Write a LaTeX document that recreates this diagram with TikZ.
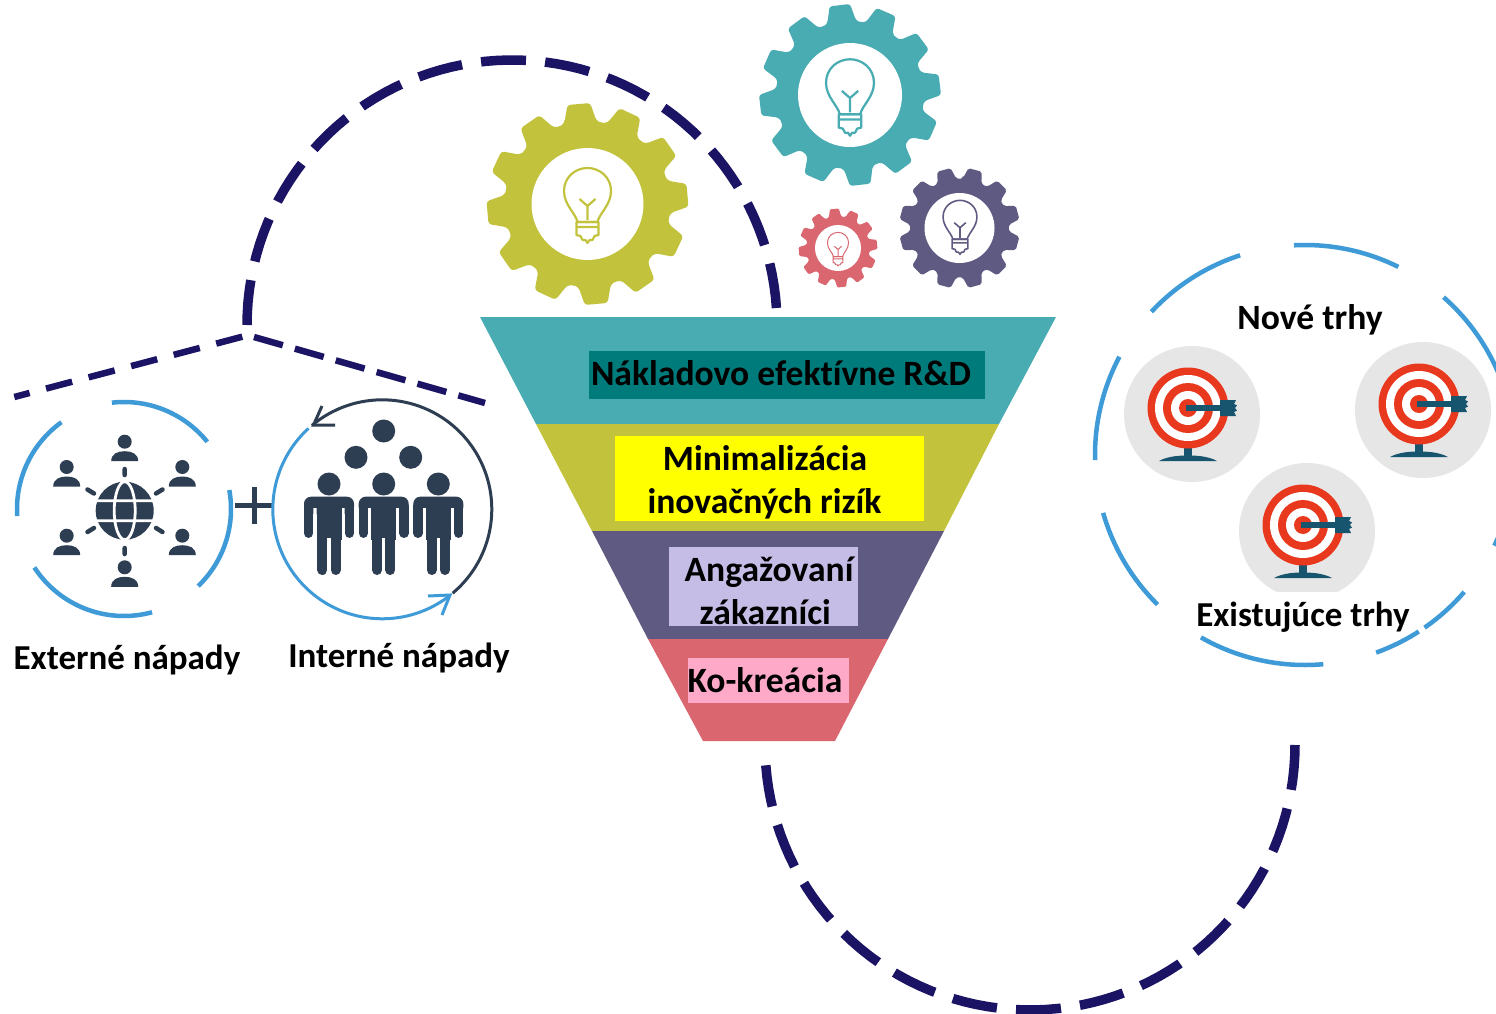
\documentclass[tikz,border=0pt]{standalone}
\usepackage{fontspec}
\setmainfont{Carlito}[Ligatures=NoCommon]
\definecolor{navy}{HTML}{1B1464}
\definecolor{sky}{HTML}{3F9BD7}
\definecolor{slate}{HTML}{2E3E52}
\definecolor{cteal}{HTML}{4AACB3}
\definecolor{colive}{HTML}{C2C23C}
\definecolor{cpurple}{HTML}{5E5A82}
\definecolor{cred}{HTML}{DA6670}
\definecolor{hteal}{HTML}{007B7B}
\definecolor{hyellow}{HTML}{FFFF00}
\definecolor{hlav}{HTML}{C5BDE5}
\definecolor{hpink}{HTML}{FFA9C8}
\definecolor{tred}{HTML}{E8391F}
\definecolor{tdark}{HTML}{17556F}
\definecolor{tgrey}{HTML}{E6E6E6}
\tikzset{
  lab/.style={font=\fontsize{35.6}{40}\bfseries\selectfont,text=black,inner sep=0pt,anchor=base},
  labs/.style={lab,font=\fontsize{35}{40}\bfseries\selectfont},
  hbox/.style={inner sep=0pt,draw=none},
  navydash/.style={draw=navy,line width=9.5pt,dash pattern=on 45pt off 19.2pt},
  navyline/.style={draw=navy,line width=6.5pt,dash pattern=on 30pt off 12.5pt},
  navylineb/.style={draw=navy,line width=6.5pt,dash pattern=on 27pt off 17pt},
  skyarc/.style={draw=sky,line width=4.5pt},
}
\newcommand{\circarc}[6]{\draw[#1] plot[domain=#5:#6,samples=70] ({#2+#4*cos(\x)},{#3+#4*sin(\x)});}
% gear: cx cy outer root hole start colour
\newcommand{\mygear}[7]{%
 \begin{scope}[shift={(#1,#2)}]
  \fill[#7,rounded corners=#3*0.03pt] ({#6-11}:#4)
   \foreach \i in {0,...,11}{
     -- ({#6+\i*30-6.5}:#3) -- ({#6+\i*30+6.5}:#3) -- ({#6+\i*30+11}:#4)
     .. controls ({#6+\i*30+13.5}:#4*0.985) and ({#6+\i*30+16.5}:#4*0.985) .. ({#6+\i*30+19}:#4)
   } -- cycle;
  \fill[white] (0,0) circle[radius=#5pt];
 \end{scope}}
% bulb
\newcommand{\mybulb}[4]{%
 \begin{scope}[shift={(#1,#2)},scale=#3]
  \draw[#4,line width=#3*2.2pt,line join=round,fill=white]
    (-10,17) .. controls (-12,8) and (-23.5,0) .. (-23.5,-14)
    .. controls (-23.5,-28) and (-12,-37) .. (0,-37)
    .. controls (12,-37) and (23.5,-28) .. (23.5,-14)
    .. controls (23.5,0) and (12,8) .. (10,17) -- cycle;
  \draw[#4,line width=#3*2.2pt,line join=round]
    (-11,17) -- (-11,30) -- (-7,31) -- (-5,35) -- (-2,35) -- (0,38) -- (2,35) -- (5,35) -- (7,31) -- (11,30) -- (11,17) -- cycle (-11,22) -- (11,22);
  \draw[#4,line width=#3*2.2pt] (0,15) -- (0,1) -- (-8,-6) (0,1) -- (8,-6);
 \end{scope}}
% target
\newcommand{\mytarget}[2]{%
 \begin{scope}[shift={(#1,#2)}]
  \fill[tgrey] (0,0) circle[radius=68pt];
  \begin{scope}[shift={(-4,-6)}]
   \fill[tdark] (-4,36) rectangle (4,49);
   \fill[tdark] (-29,53) .. controls (-20,48) and (-8,47.5) .. (0,47.5) .. controls (8,47.5) and (20,48) .. (29,53) -- cycle;
   \fill[tred] (0,0) circle[radius=40.5pt];
   \fill[white] (0,0) circle[radius=33pt];
   \fill[tred] (0,0) circle[radius=25pt];
   \fill[white] (0,0) circle[radius=17pt];
   \fill[tred] (0,0) circle[radius=9pt];
   \fill[tdark] (-2,-3) rectangle (34,3);
   \fill[tdark] (32,-8) -- (48,-8) -- (46,-4) -- (49,-2.5) -- (47,0) -- (49,2.5) -- (46,4) -- (48,8) -- (32,8) -- cycle;
  \end{scope}
 \end{scope}}
% small person
\newcommand{\smallperson}[2]{%
 \begin{scope}[shift={(#1,#2)}]
  \fill[slate] (0,0) circle[radius=7pt];
  \fill[slate] (-13.5,19.5) .. controls (-13.5,12) and (-7,9.5) .. (0,9.5) .. controls (7,9.5) and (13.5,12) .. (13.5,19.5) -- cycle;
 \end{scope}}
% big person
\newcommand{\bigperson}[2]{%
 \begin{scope}[shift={(#1,#2)}]
  \fill[slate] (0,0) circle[radius=11.5pt];
  \fill[slate,rounded corners=7pt] (-25,12.7) rectangle (25,30);
  \fill[white] (-15.7,24) rectangle (-12.5,32) (12.5,24) rectangle (15.7,32);
  \fill[slate] (-12.5,18) rectangle (12.5,56);
  \draw[slate,line width=9.3pt,line cap=round] (-20.4,22) -- (-20.4,49.3) (20.4,22) -- (20.4,49.3);
  \draw[slate,line width=10pt,line cap=round] (-6.6,50) -- (-6.6,86) (6.6,50) -- (6.6,86);
  \fill[white] (-1.6,54) rectangle (1.6,72);
 \end{scope}}
\begin{document}
\begin{tikzpicture}[x=1pt,y=-1pt]
\useasboundingbox (0,0) rectangle (1496,1014);
\clip (0,0) rectangle (1496,1014);
\fill[white] (0,0) rectangle (1496,1014);

% big dashed arcs
\circarc{navydash}{512}{325}{265}{180}{356.4}
\circarc{navydash}{1030}{745}{265}{0}{175.6}
\coordinate (leftend) at (14.3,397);
\coordinate (rightend) at (485,403);
\coordinate (apexl) at (242.3,336.7);
\coordinate (apexr) at (254,337);
\draw[navyline] (apexr) -- (rightend);
\draw[navylineb] (apexl) -- (leftend);

% gears
\mygear{587.5}{204}{101}{84}{56}{-95}{colive}
\mybulb{587.5}{205}{1}{colive}
\mygear{850}{95}{91}{75}{52}{-96.5}{cteal}
\mybulb{850}{97}{1.02}{cteal}
\mygear{838}{248}{39.5}{32}{23}{-95.4}{cred}
\mybulb{838}{249}{0.45}{cred}
\mygear{959.5}{228}{60.5}{50}{35}{-75}{cpurple}
\mybulb{960}{227}{0.72}{cpurple}

% funnel
\fill[cteal] (480,317) -- (1056,317) -- (999,424) -- (536,424) -- cycle;
\fill[colive] (536,424) -- (999,424) -- (944,531) -- (592,531) -- cycle;
\fill[cpurple] (592,531) -- (944,531) -- (888,639) -- (648,639) -- cycle;
\fill[cred] (648,639) -- (888,639) -- (835,741) -- (703,741) -- cycle;

\node[hbox,fill=hteal,minimum width=396pt,minimum height=48pt] (b1) at (787,375) {};
\node[hbox,fill=hyellow,minimum width=309pt,minimum height=85pt] (b2) at (769.5,478.5) {};
\node[hbox,fill=hlav,minimum width=189pt,minimum height=79pt] (b3) at (763.5,586.5) {};
\node[hbox,fill=hpink,minimum width=161pt,minimum height=45pt] (b4) at (768.5,680.5) {};

\node[lab] (t1) at (781,385) {Nákladovo efektívne R\&D};
\node[lab] (t2a) at (765,470.5) {Minimalizácia};
\node[lab] (t2b) at (764.5,513.5) {inovačných rizík};
\node[lab] (t3a) at (769,581) {Angažovaní};
\node[lab] (t3b) at (765.3,624) {zákazníci};
\node[lab] (t4) at (765,692) {Ko-kreácia};

% external ideas
\circarc{skyarc}{124}{509}{107}{-96.5}{-38.9}
\circarc{skyarc}{124}{509}{107}{176.2}{234.2}
\circarc{skyarc}{124}{509}{107}{74.8}{146.9}
\circarc{skyarc}{124}{509}{107}{-10.2}{46.1}
\begin{scope}[shift={(124.7,510.7)}]
 \fill[slate] (0,0) circle[radius=29pt];
 \draw[white,line width=2.8pt] (-30,-10) -- (30,-10) (-30,10) -- (30,10) (0,0) ellipse[x radius=10.5pt,y radius=29pt];
 \draw[white,line width=2.8pt] (-29.5,-21) .. controls (-18,-29) and (-12,-30) .. (-10,-31) (29.5,-21) .. controls (18,-29) and (12,-30) .. (10,-31);
 \draw[white,line width=2.8pt] (-29.5,21) .. controls (-18,29) and (-12,30) .. (-10,31) (29.5,21) .. controls (18,29) and (12,30) .. (10,31);
\end{scope}
\smallperson{124.7}{441.7}
\smallperson{66.7}{467}
\smallperson{182.3}{467}
\smallperson{66.7}{535.7}
\smallperson{182.3}{535.7}
\smallperson{124.7}{567.3}
\draw[slate,line width=4.5pt,line cap=round] (124.7,469) -- (124.7,475) (124.7,548) -- (124.7,554)
  (87.5,489.5) -- (94,493.5) (162.5,489.5) -- (156,493.5) (87.5,532) -- (94,528) (162.5,532) -- (156,528);

% plus
\draw[slate,line width=5pt] (235,505) -- (273,505) (254,487) -- (254,524);

% internal ideas
\circarc{draw=slate,line width=3pt}{382.3}{509.3}{109.5}{-130}{50}
\circarc{draw=sky,line width=3pt}{382.3}{509.3}{109.5}{52}{227.6}
\draw[sky,line width=3pt,line join=miter] (428,596) -- (450,595) -- (442,615);
\draw[slate,line width=3pt,line join=miter] (322,406) -- (313.5,425) -- (335,425);
\fill[slate] (383.7,431) circle[radius=11.5pt] (356,457.3) circle[radius=11.5pt] (410.7,457.3) circle[radius=11.5pt];
\bigperson{329}{484}
\bigperson{383.7}{484}
\bigperson{438.3}{484}

\node[labs] (ext) at (127,669) {Externé nápady};
\node[labs] (int) at (399,667) {Interné nápady};

% markets
\foreach \a/\b in {267/296.4,223/252,178.6/207.9,134.6/164,85/119.7,57.2/70.2,40.7/55.3,15/25.6,-48.7/-20}{
  \circarc{skyarc}{1305}{455}{210}{\a}{\b}
}
\mytarget{1192}{414}
\mytarget{1423}{410}
\begin{scope}
 \clip (1230,450) rectangle (1390,591);
 \mytarget{1307}{531}
\end{scope}
\node[lab] (new) at (1310,329) {Nové trhy};
\node[labs] (old) at (1303,626) {Existujúce trhy};
\end{tikzpicture}
\end{document}
